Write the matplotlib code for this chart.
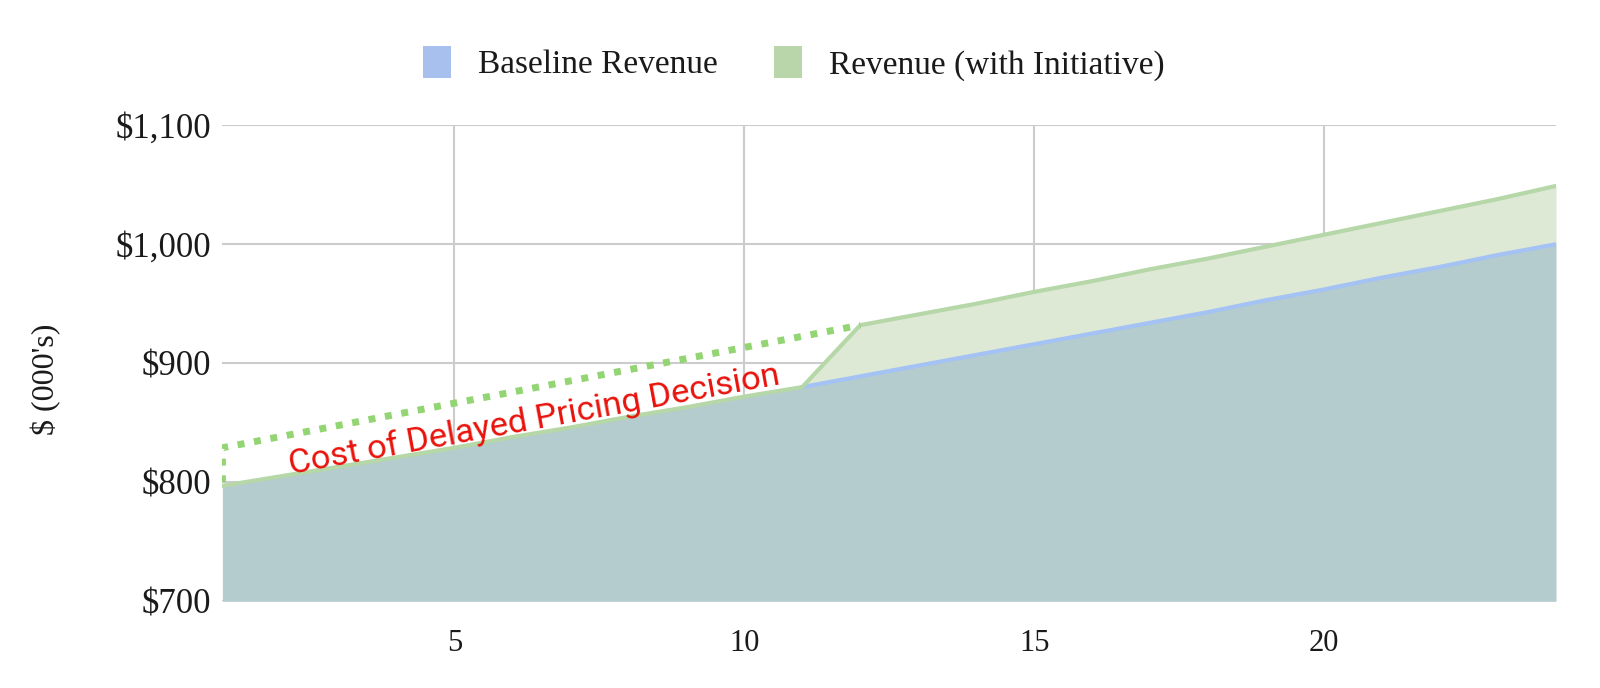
import matplotlib
matplotlib.use("Agg")
import matplotlib.pyplot as plt
from matplotlib.patches import Patch

months = list(range(1, 25))
baseline = [797, 805, 813, 821, 829, 838, 846, 855, 863, 872, 880, 889,
            898, 907, 916, 925, 934, 943, 953, 962, 972, 981, 991, 1000]
initiative = [797, 805, 813, 821, 829, 838, 846, 855, 863, 872, 880, 932,
              941, 950, 960, 969, 979, 988, 998, 1008, 1018, 1028, 1038, 1049]
delayed_x = [1, 1, 12]
delayed_y = [800, 829, 932]
y_ticks = [700, 800, 900, 1000, 1100]
y_tick_labels = ["$700", "$800", "$900", "$1,000", "$1,100"]
x_ticks = [5, 10, 15, 20]
legend_labels = ["Baseline Revenue", "Revenue (with Initiative)"]
annotation = "Cost of Delayed Pricing Decision"

fig = plt.figure(figsize=(16, 6.88), dpi=100)
ax = fig.add_axes([0.139, 0.126, 0.9725 - 0.139, 0.818 - 0.126])

serif = ["Liberation Serif", "DejaVu Serif"]
txt = "#1a1a1a"

ax.fill_between(months, baseline, initiative, color="#dde9d5", lw=0, zorder=1)
ax.fill_between(months, 700, baseline, color="#b4cccd", lw=0, zorder=1)
ax.plot(months[10:], baseline[10:], color="#a4c2f4", lw=3, zorder=3)
ax.plot(months, initiative, color="#b6d7a8", lw=3, zorder=4)
ax.plot(delayed_x, delayed_y, color="#93d473", lw=5,
        linestyle=(0, (1, 1.4)), zorder=5, solid_capstyle="butt")

ax.text(6.38, 852, annotation, color="#e8130c", fontsize=24.8,
        family=["Roboto", "DejaVu Sans"], rotation=10.4,
        rotation_mode="anchor", ha="center", va="center", zorder=6)

ax.set_xlim(1, 24)
ax.set_ylim(700, 1100)
ax.set_xticks(x_ticks)
ax.set_xticklabels([str(v) for v in x_ticks], family=serif, fontsize=22)
ax.set_yticks(y_ticks)
ax.set_yticklabels(y_tick_labels, family=serif, fontsize=25)
ax.tick_params(axis="both", length=0, colors=txt)
ax.tick_params(axis="x", pad=20)
ax.tick_params(axis="y", pad=8)
ax.grid(True, color="#cccccc", lw=1.5, zorder=0)
ax.set_axisbelow(True)
for s in ax.spines.values():
    s.set_visible(False)

fig.text(0.029, 0.448, "$ (000's)", rotation=90, family=serif, fontsize=23,
         ha="center", va="center", color=txt)

handles = [Patch(facecolor="#a8c0ee", edgecolor="none"),
           Patch(facecolor="#b9d6ab", edgecolor="none")]
leg = fig.legend(handles, legend_labels, loc="center", bbox_to_anchor=(0.496, 0.908),
                 ncol=2, frameon=False, prop={"family": serif, "size": 24},
                 handlelength=0.85, handleheight=1.1, columnspacing=1.7, handletextpad=0.8)
for t in leg.get_texts():
    t.set_color(txt)

fig.savefig("out.png", dpi=100)
